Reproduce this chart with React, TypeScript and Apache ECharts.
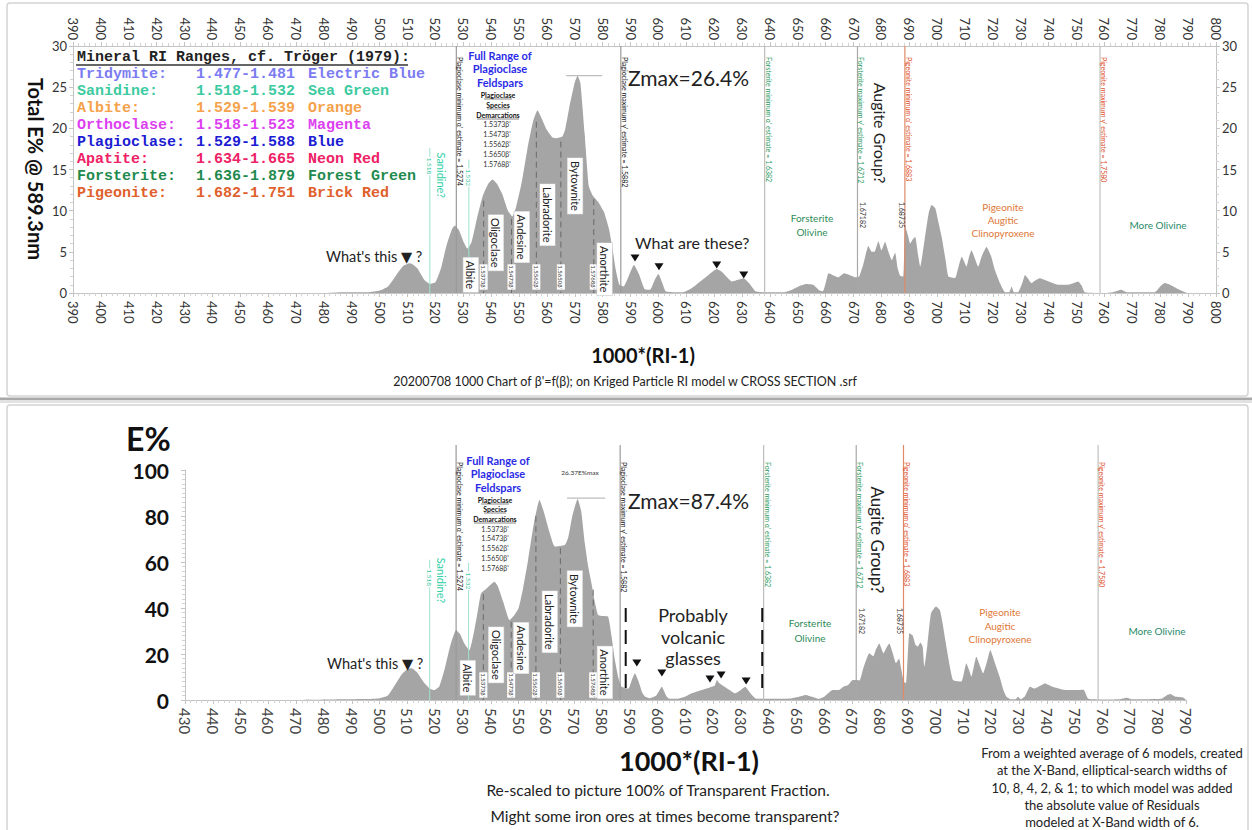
import React, { useEffect, useRef } from "react";
import * as echarts from "echarts";

const FONT = "Lato, 'Open Sans', 'DejaVu Sans', sans-serif";
const MONO = "'Liberation Mono', 'DejaVu Sans Mono', monospace";

// ---------- data ----------
const topXRange = [390, 800];
const topYRange = [0, 30];
const bottomXRange = [430, 790];
const bottomYRange = [0, 100];

const topProfile: [number, number][] = [
  [390, 0], [480, 0], [486, 0.1], [496, 0.1], [500, 0.3], [503, 0.8], [506, 2.2], [508.5, 3.3], [511, 3.6],
  [513.5, 3.0], [516, 1.6], [518, 1.1], [520, 1.3], [522, 3.0], [524, 5.8], [526, 7.8], [527, 8.2], [528.5, 7.6],
  [530, 6.3], [531.5, 5.4], [533, 6.2], [535, 9.2], [537, 11.8], [539, 13.3], [540.5, 13.8], [542, 13.3], [544, 12.0],
  [546, 10.0], [547.6, 9.3], [549, 10.5], [551, 13.5], [553, 17.5], [555, 20.8], [556.6, 22.2], [558, 21.3], [560, 19.8],
  [562, 18.9], [563.5, 18.8], [565.5, 19.0], [566.5, 19.8], [568, 22.5], [570, 25.6], [571, 26.4], [572, 25.5],
  [573.5, 19.5], [575, 13.0], [576.5, 11.8], [578.5, 11.0], [580.5, 9.8], [582.3, 7.7], [583.7, 5.0], [584.7, 2.8],
  [586, 1.0], [587.5, 0.8], [589.5, 2.2], [591.2, 3.4], [593, 2.3], [595, 0.5], [597, 0.4], [598.7, 1.6], [600, 2.3],
  [601.3, 1.3], [602.6, 0.2], [605, 0.1], [609, 0.1], [612, 0.6], [615, 1.4], [618, 2.2], [621, 2.9], [623, 2.5],
  [626.4, 1.4], [628.5, 1.6], [630.6, 1.8], [632.5, 1.2], [634.8, 0.2], [637, 0.1], [645, 0.1], [648, 0.4], [651, 0.9],
  [653, 1.1], [655.5, 1.0], [657.8, 0.3], [659, 0.2], [660, 1.2], [661, 2.4], [663, 2.1], [664.5, 1.9], [666.6, 2.4],
  [668.5, 2.2], [670.8, 1.9], [672, 2.0], [673.5, 3.5], [675.3, 5.7], [676.5, 5.0], [677.5, 5.0], [678.9, 6.3],
  [680, 5.2], [681.3, 6.2], [682.5, 5.0], [683.7, 4.0], [684.9, 4.9], [685.8, 3.0], [686.7, 2.1], [687.8, 2.0],
  [688.5, 8.1], [689.5, 7.0], [690.3, 6.0], [691.2, 6.5], [692.1, 6.8], [693.2, 4.5], [693.9, 3.2], [695.5, 6.5],
  [697, 9.8], [698, 10.7], [699.3, 10.3], [700.5, 8.5], [701.6, 6.8], [703, 4.0], [704, 2.0], [706.4, 1.8], [707.5, 3.0],
  [708.8, 4.4], [709.7, 3.8], [710.5, 3.2], [711.5, 4.5], [712.3, 5.2], [713.5, 4.2], [714.7, 3.2], [716, 4.5],
  [717.7, 5.6], [719.3, 4.5], [720.7, 2.8], [722.5, 1.2], [724.3, 0.1], [725.8, 0.1], [726.7, 0.8], [727.5, 0.1],
  [729, 0.1], [730.5, 1.2], [731.5, 2.2], [732.5, 1.8], [733.8, 1.2], [735, 1.5], [736.8, 1.8], [740, 1.4], [743.4, 1.0],
  [747, 1.0], [749, 1.2], [750.5, 1.4], [751.8, 0.9], [752.9, 0.1], [760, 0], [763, 0.1], [766, 0.4], [768, 0.1],
  [778, 0.1], [780, 0.8], [781.6, 1.2], [783.5, 1.0], [785.2, 0.7], [787.5, 0.3], [789.8, 0], [800, 0],
];

const bottomProfile: [number, number][] = [
  [430, 0], [470, 0], [487, 0.3], [495, 0.4], [500, 0.8], [503, 2.0], [505.5, 6.5], [508, 11.2], [510, 13.5],
  [511.5, 13.8], [513.5, 12.0], [516, 7.5], [518, 5.0], [519.6, 4.3], [521.5, 6.0], [523.5, 14.0], [525.5, 24.0],
  [527.5, 30.4], [529, 28.5], [530.5, 24.5], [532.3, 21.7], [534, 30.0], [535.5, 40.0], [536.5, 46.4], [538.5, 48.5],
  [541.3, 51.4], [542.5, 49.5], [544.5, 42.5], [546.7, 34.8], [548.5, 37.0], [550, 40.0], [551.5, 48.0], [553.4, 60.9],
  [555.5, 77.0], [557.5, 87.0], [559, 82.0], [561.2, 72.5], [563, 66.7], [566.6, 67.4], [567.8, 70.5], [569.3, 80.0],
  [571.2, 87.4], [572.5, 82.0], [573.8, 68.1], [575, 58.0], [576.2, 50.7], [577.5, 42.0], [578.6, 37.0], [580.5, 36.5],
  [582.2, 36.2], [583.5, 27.0], [584.6, 17.4], [586, 9.0], [587, 5.8], [589.5, 5.0], [590.8, 9.0], [591.8, 11.6],
  [593, 8.5], [594.5, 3.0], [595.5, 1.4], [597, 0.8], [599.5, 2.0], [601.5, 5.8], [603, 2.0], [603.9, 0.7], [607, 0.5],
  [610, 1.5], [612.3, 2.9], [615, 4.0], [617.5, 5.0], [619.5, 5.8], [620.5, 6.2], [621.3, 8.7], [622, 7.5], [623.1, 6.5],
  [625, 5.0], [627.9, 2.9], [629.5, 4.0], [631.5, 5.8], [633, 3.5], [635.2, 0.7], [640, 0.5], [648, 0.7], [651, 1.5],
  [653.2, 2.2], [656, 1.2], [658, 0.5], [660, 1.5], [662.9, 4.3], [665, 4.3], [666.8, 5.8], [668.5, 6.5], [670.1, 8.7],
  [671.5, 8.7], [672.6, 8.5], [674, 14.0], [676.1, 20.3], [677.5, 19.0], [678.5, 22.0], [679.7, 24.6], [681.2, 20.3],
  [682.4, 23.0], [683.3, 24.6], [684.5, 20.5], [685.7, 16.0], [686.8, 18.0], [687.5, 14.0], [688.5, 8.0], [689.3, 7.2],
  [690.5, 29.0], [691.7, 28.0], [692.7, 24.0], [693.5, 23.2], [694.5, 25.0], [695.3, 23.2], [695.9, 14.5], [697, 24.0],
  [698.3, 37.7], [700.1, 40.6], [701.5, 39.0], [702.5, 33.0], [704, 22.0], [706.2, 8.7], [709.2, 8.0], [710, 11.0],
  [711, 16.0], [712, 13.0], [712.8, 10.1], [714.6, 18.8], [716, 14.5], [717, 11.6], [718.5, 17.0], [719.6, 21.7],
  [721.3, 16.0], [723, 10.0], [724.3, 4.5], [725.4, 1.5], [727, 0.3], [728.7, 0.3], [729.6, 1.4], [730.6, 0.3],
  [732, 1.5], [733.9, 5.8], [735.5, 5.0], [737.2, 6.0], [739.3, 7.2], [742, 5.8], [745.9, 4.5], [749, 4.3], [753.1, 4.5],
  [754.9, 0.5], [760, 0.2], [766, 0.3], [768.7, 1.0], [770.5, 0.3], [781, 0.5], [783, 2.0], [784.4, 2.6], [786, 1.5],
  [787.5, 1.3], [789.2, 1.0], [790, 0],
];

const legendTitle = "Mineral RI Ranges, cf. Tröger (1979):";
const legendMinerals = ["Tridymite:", "Sanidine:", "Albite:", "Orthoclase:", "Plagioclase:", "Apatite:", "Forsterite:", "Pigeonite:"];
const legendRanges = ["1.477-1.481", "1.518-1.532", "1.529-1.539", "1.518-1.523", "1.529-1.588", "1.634-1.665", "1.636-1.879", "1.682-1.751"];
const legendColorNames = ["Electric Blue", "Sea Green", "Orange", "Magenta", "Blue", "Neon Red", "Forest Green", "Brick Red"];
const legendColors = ["#7b7bf2", "#3ccaa0", "#f5a24a", "#dc3ff0", "#1c1cd2", "#ee2266", "#1f8a4e", "#e0602c"];

const boundaryX = [527.5, 586.5, 638.1, 671.4, 688.4, 758.4];
const boundaryText = [
  "Plagioclase minimum α' estimate = 1.5274",
  "Plagioclase maximum γ' estimate = 1.5882",
  "Forsterite minimum α' estimate = 1.6382",
  "Forsterite maximum γ' estimate = 1.6712",
  "Pigeonite minimum α' estimate = 1.6883",
  "Pigeonite maximum γ' estimate = 1.7580",
];
const boundaryTextColor = ["#111", "#111", "#1f9a5a", "#1f9a5a", "#e0502a", "#e0502a"];
const boundaryLineColor = ["#9a9a9a", "#9a9a9a", "#bcbcbc", "#a8a8a8", "#e08a6a", "#c0c0c0"];

const demarcationX = [537.3, 547.3, 556.2, 565.0, 576.8];
const demarcationText = ["1.5373β'", "1.5473β'", "1.5562β'", "1.5650β'", "1.5768β'"];
const demarcationTopHeight = [11.2, 9.0, 20.8, 18.4, 11.4];
const demarcationBottomHeight = [46, 34, 80, 66, 48];

const speciesNames = ["Albite", "Oligoclase", "Andesine", "Labradorite", "Bytownite", "Anorthite"];
const speciesTopX = [532.7, 541.7, 551.0, 560.2, 570.1, 580.7];
const speciesTopY = [2.2, 6.1, 6.8, 9.5, 13.0, 2.9];
const speciesBottomX = [531.7, 541.9, 550.9, 561.2, 570.2, 581.0];
const speciesBottomY = [9.6, 19.6, 22.6, 34, 44, 12];

const sanidineX = [518, 532];
const sanidineTopFrom = [17.6, 16.2];
const sanidineBottomFrom = [61, 59.6];

const topMarkers: [number, number][] = [[591.6, 4.25], [600.2, 3.2], [620.9, 3.4], [630.6, 2.2]];
const bottomMarkers: [number, number][] = [[592.5, 16.1], [601.5, 11.7], [618.8, 9.1], [622.8, 10.9], [631.8, 8.3]];

const topZmax = { x1: 566.9, x2: 579.8, y: 26.4 };
const bottomZmax = { x1: 567.4, x2: 581.1, y: 87.8 };
const glassDashX = [588.5, 637.6];

// ---------- helpers ----------
type Any = any;
const axisLineStyle = { color: "#c4c4c4", width: 1 };

function xAxisDef(grid: number, range: number[], position: string, rotate: number, size: number, color: string, margin: number): Any {
  return {
    type: "value", gridIndex: grid, min: range[0], max: range[1], interval: 10, position,
    axisLine: { show: true, onZero: false, lineStyle: axisLineStyle },
    axisTick: { show: true, length: 4, lineStyle: axisLineStyle },
    minorTick: { show: true, splitNumber: 5, length: 3, lineStyle: { color: "#d2d2d2" } },
    splitLine: { show: false },
    axisLabel: { rotate, fontSize: size, color, margin, fontFamily: FONT },
  };
}
function yAxisDef(grid: number, range: number[], interval: number, position: string, size: number, color: string, weight: string, margin: number, minor: number): Any {
  return {
    type: "value", gridIndex: grid, min: range[0], max: range[1], interval, position,
    axisLine: { show: true, lineStyle: axisLineStyle },
    axisTick: { show: true, length: 4, lineStyle: axisLineStyle },
    minorTick: { show: true, splitNumber: minor, length: 3, lineStyle: { color: "#d2d2d2" } },
    splitLine: { show: false },
    axisLabel: { fontSize: size, color, fontWeight: weight, margin, fontFamily: FONT },
  };
}

function baseOption(): Any {
  return {
    animation: false,
    backgroundColor: "#ffffff",
    textStyle: { fontFamily: FONT },
    grid: [
      { left: 73, top: 46, width: 1143, height: 247 },
      { left: 185, top: 470, width: 1001, height: 230 },
    ],
    xAxis: [
      xAxisDef(0, topXRange, "bottom", -90, 13, "#333", 8),
      xAxisDef(0, topXRange, "top", 90, 13, "#333", 6),
      xAxisDef(1, bottomXRange, "bottom", -90, 15, "#444", 8),
    ],
    yAxis: [
      yAxisDef(0, topYRange, 5, "left", 13, "#333", "normal", 6, 5),
      yAxisDef(0, topYRange, 5, "right", 13, "#333", "normal", 6, 5),
      yAxisDef(1, bottomYRange, 20, "left", 21, "#111", "bold", 16, 10),
    ],
    series: [
      {
        type: "line", xAxisIndex: 0, yAxisIndex: 0, data: topProfile, showSymbol: false, smooth: 0.15,
        lineStyle: { width: 0 }, areaStyle: { color: "#a5a5a5", opacity: 1 }, z: 2,
      },
      {
        type: "line", xAxisIndex: 2, yAxisIndex: 2, data: bottomProfile, showSymbol: false, smooth: 0.15,
        lineStyle: { width: 0 }, areaStyle: { color: "#a5a5a5", opacity: 1 }, z: 2,
      },
    ],
  };
}

function buildGraphics(P: (g: number, x: number, y: number) => number[]): Any[] {
  const G: Any[] = [];
  const CW = -Math.PI / 2;
  const txt = (text: string, x: number, y: number, o: Any = {}) => {
    const style: Any = {
      text, fill: o.fill ?? "#222", fontSize: o.size ?? 12, fontFamily: o.family ?? FONT,
      fontWeight: o.weight ?? "normal", textAlign: o.align ?? "center",
      textVerticalAlign: o.va ?? "middle", verticalAlign: o.va ?? "middle",
    };
    if (o.bg) { style.backgroundColor = o.bg; style.padding = o.pad ?? [1, 2]; }
    if (o.border) { style.borderColor = o.border; style.borderWidth = 0.6; }
    G.push({ type: "text", x, y, rotation: o.rot ?? 0, z: o.z ?? 60, silent: true, style });
  };
  const line = (x1: number, y1: number, x2: number, y2: number, stroke: string, w = 1, dash?: number[], z = 40) => {
    G.push({ type: "line", z, silent: true, shape: { x1, y1, x2, y2 }, style: { stroke, lineWidth: w, lineDash: dash } });
  };
  const tri = (cx: number, cy: number) => {
    G.push({ type: "polygon", z: 60, silent: true, shape: { points: [[cx - 4.5, cy - 3.5], [cx + 4.5, cy - 3.5], [cx, cy + 3.5]] }, style: { fill: "#111" } });
  };

  // frames
  G.push({ type: "rect", z: 1, silent: true, shape: { x: 7, y: 3, width: 1241, height: 393, r: 3 }, style: { fill: "none", stroke: "#d4d4d4", lineWidth: 1.5 } });
  G.push({ type: "rect", z: 1, silent: true, shape: { x: 0, y: 397.5, width: 1252, height: 2.5 }, style: { fill: "#a9a9a9" } });
  G.push({ type: "rect", z: 1, silent: true, shape: { x: 0, y: 400, width: 1252, height: 3 }, style: { fill: "#e2e2e2" } });
  G.push({ type: "rect", z: 1, silent: true, shape: { x: 7, y: 405, width: 1241, height: 440, r: 3 }, style: { fill: "none", stroke: "#d4d4d4", lineWidth: 1.5 } });

  // axis titles and captions
  txt("Total E% @ 589.3nm", 36, 169, { rot: CW, size: 20, weight: "bold", fill: "#111" });
  txt("1000*(RI-1)", 643, 355, { size: 20, weight: "bold", fill: "#111" });
  txt("20200708 1000 Chart of β'=f(β); on Kriged Particle RI model w CROSS SECTION .srf", 625, 381, { size: 12.5 });
  txt("E%", 126, 438, { size: 32, weight: "bold", fill: "#111", align: "left" });
  txt("1000*(RI-1)", 689, 760, { size: 27, weight: "bold", fill: "#111" });
  txt("Re-scaled to picture 100% of Transparent Fraction.", 658, 790, { size: 15.5 });
  txt("Might some iron ores at times become transparent?", 665, 816, { size: 15.5 });
  const note = ["From a weighted average of 6 models, created", "at the X-Band, elliptical-search widths of",
    "10, 8, 4, 2, & 1; to which model was added", "the absolute value of Residuals", "modeled at X-Band width of 6."];
  const noteY = [753, 770, 788, 805, 822];
  note.forEach((t, i) => txt(t, 1112, noteY[i], { size: 13 }));

  // legend
  txt(legendTitle, 77, 57, { family: MONO, size: 15, weight: "bold", align: "left", fill: "#222" });
  line(76, 65, 408, 65, "#333", 1.5, undefined, 60);
  legendMinerals.forEach((m, i) => {
    const y = 74 + i * 17;
    const c = legendColors[i];
    txt(m, 77, y, { family: MONO, size: 15, weight: "bold", align: "left", fill: c });
    txt(legendRanges[i], 196, y, { family: MONO, size: 15, weight: "bold", align: "left", fill: c });
    txt(legendColorNames[i], 308, y, { family: MONO, size: 15, weight: "bold", align: "left", fill: c });
  });

  // per-panel annotations
  const panels = [
    { g: 0, yTopLine: P(0, 500, 30)[1], yBase: P(0, 500, 0)[1], labelStart: 57, demH: demarcationTopHeight, sX: speciesTopX, sY: speciesTopY,
      sanFrom: sanidineTopFrom, smallY: 277, markers: topMarkers, z: topZmax },
    { g: 1, yTopLine: 445, yBase: P(1, 500, 0)[1], labelStart: 462, demH: demarcationBottomHeight, sX: speciesBottomX, sY: speciesBottomY,
      sanFrom: sanidineBottomFrom, smallY: 685, markers: bottomMarkers, z: bottomZmax },
  ];
  panels.forEach((p) => {
    const g = p.g;
    boundaryX.forEach((bx, i) => {
      const x = P(g, bx, 0)[0];
      line(x, p.yTopLine, x, p.yBase, boundaryLineColor[i], 1.2, undefined, 30);
      txt(boundaryText[i], x + 4, p.labelStart, { rot: CW, size: 7, align: "left", fill: boundaryTextColor[i] });
    });
    // sanidine
    sanidineX.forEach((sx, i) => {
      const a = P(g, sx, p.sanFrom[i]);
      const b = P(g, sx, 0);
      line(a[0], a[1], b[0], b[1], "#9fe3cc", 1, undefined, 30);
      txt(sx === 518 ? "1.518" : "1.532", a[0], a[1] + 18, { rot: CW, size: 6.5, fill: "#3cc8a0", bg: "#fff", pad: [0, 1] });
    });
    const sn = P(g, 522.2, g === 0 ? 14.3 : 52);
    txt("Sanidine?", sn[0], sn[1], { rot: CW, size: 11, fill: "#33d0a8" });
    // demarcations
    demarcationX.forEach((dx, i) => {
      const a = P(g, dx, p.demH[i]);
      const b = P(g, dx, 0);
      line(a[0], a[1], b[0], b[1], "#6a6a6a", 1, [6, 4], 35);
      txt(demarcationText[i], a[0], p.smallY, { rot: CW, size: 6, fill: "#333", bg: "#fff", pad: [1, 1], z: 55 });
    });
    // species boxes
    speciesNames.forEach((nm, i) => {
      const q = P(g, p.sX[i], p.sY[i]);
      txt(nm, q[0], q[1], { rot: CW, size: 11, fill: "#222", bg: "#fff", pad: [2, 3], border: "#c8c8c8", z: 65 });
    });
    // markers
    p.markers.forEach((m) => {
      const q = P(g, m[0], m[1]);
      tri(q[0], q[1]);
    });
    // zmax line
    const z1 = P(g, p.z.x1, p.z.y);
    const z2 = P(g, p.z.x2, p.z.y);
    line(z1[0], z1[1], z2[0], z2[1], "#bdbdbd", 1.2, undefined, 40);
  });

  // top panel texts
  txt("Full Range of", 500, 55, { size: 11, weight: "bold", fill: "#2b2be6" });
  txt("Plagioclase", 500, 68, { size: 11, weight: "bold", fill: "#2b2be6" });
  txt("Feldspars", 500, 82, { size: 11, weight: "bold", fill: "#2b2be6" });
  const spT = ["Plagioclase", "Species", "Demarcations"];
  const spTopY = [95, 105, 115];
  const spBotY = [500, 509, 519];
  spT.forEach((t, i) => {
    txt(t, 498, spTopY[i], { size: 7, weight: "bold", fill: "#111" });
    txt(t, 495, spBotY[i], { size: 7, weight: "bold", fill: "#111" });
  });
  line(484, 99, 512, 99, "#333", 0.6, undefined, 60);
  line(487, 109, 509, 109, "#333", 0.6, undefined, 60);
  line(477, 119, 519, 119, "#333", 0.6, undefined, 60);
  line(481, 504, 509, 504, "#333", 0.6, undefined, 60);
  line(484, 513, 506, 513, "#333", 0.6, undefined, 60);
  line(474, 523, 516, 523, "#333", 0.6, undefined, 60);
  const valTopY = [124, 134, 144, 154, 164];
  const valBotY = [529, 538, 548, 558, 568];
  demarcationText.forEach((t, i) => {
    txt(t, 497, valTopY[i], { size: 7, fill: "#333" });
    txt(t, 495, valBotY[i], { size: 7, fill: "#333" });
  });

  txt("Zmax=26.4%", 628, 77, { size: 21, align: "left", fill: "#222" });
  txt("What's this ▼ ?", 326, 256, { size: 14.5, align: "left", fill: "#222" });
  txt("What are these?", 635, 242, { size: 16, align: "left", fill: "#222" });
  txt("Augite Group?", 880, 133, { rot: CW, size: 16, fill: "#222" });
  txt("Forsterite", 812, 218, { size: 10, fill: "#2e8b57" });
  txt("Olivine", 812, 232, { size: 10, fill: "#2e8b57" });
  txt("Pigeonite", 1003, 207, { size: 10, fill: "#e07838" });
  txt("Augitic", 1003, 220, { size: 10, fill: "#e07838" });
  txt("Clinopyroxene", 1003, 233, { size: 10, fill: "#e07838" });
  txt("More Olivine", 1158, 225, { size: 10, fill: "#2a8a6a" });
  txt("1.67182", 863, 215, { rot: CW, size: 7, fill: "#333" });
  txt("1.68735", 902, 215, { rot: CW, size: 7, fill: "#333" });

  // bottom panel texts
  txt("Full Range of", 498, 460, { size: 11, weight: "bold", fill: "#2b2be6" });
  txt("Plagioclase", 498, 473, { size: 11, weight: "bold", fill: "#2b2be6" });
  txt("Feldspars", 498, 487, { size: 11, weight: "bold", fill: "#2b2be6" });
  txt("26.37E%max", 580, 472, { size: 6.5, fill: "#333" });
  txt("Zmax=87.4%", 628, 500, { size: 21, align: "left", fill: "#222" });
  txt("What's this ▼ ?", 327, 663, { size: 14.5, align: "left", fill: "#222" });
  txt("Probably", 693, 615, { size: 18, fill: "#222" });
  txt("volcanic", 693, 637, { size: 18, fill: "#222" });
  txt("glasses", 693, 658, { size: 18, fill: "#222" });
  glassDashX.forEach((gx) => {
    const a = P(1, gx, 40);
    const b = P(1, gx, 5);
    line(a[0], a[1], b[0], b[1], "#111", 2, [14, 8], 50);
  });
  txt("Augite Group?", 877, 540, { rot: CW, size: 17, fill: "#222" });
  txt("Forsterite", 810, 623, { size: 10, fill: "#2e8b57" });
  txt("Olivine", 810, 638, { size: 10, fill: "#2e8b57" });
  txt("Pigeonite", 1000, 612, { size: 10, fill: "#e07838" });
  txt("Augitic", 1000, 626, { size: 10, fill: "#e07838" });
  txt("Clinopyroxene", 1000, 639, { size: 10, fill: "#e07838" });
  txt("More Olivine", 1157, 631, { size: 10, fill: "#2a8a6a" });
  txt("1.67182", 862, 621, { rot: CW, size: 7, fill: "#333" });
  txt("1.68735", 900, 621, { rot: CW, size: 7, fill: "#333" });

  return G;
}

export default function App() {
  const ref = useRef<HTMLDivElement>(null);
  useEffect(() => {
    if (!ref.current) return;
    const chart = echarts.init(ref.current, null, { renderer: "svg" });
    chart.setOption(baseOption());
    const P = (g: number, x: number, y: number) => chart.convertToPixel({ gridIndex: g } as Any, [x, y]) as number[];
    chart.setOption({ graphic: { elements: buildGraphics(P) } });
    return () => chart.dispose();
  }, []);
  return (
    <div
      ref={ref}
      style={{ position: "fixed", left: 0, top: 0, width: 1252, height: 830, background: "#fff" }}
    />
  );
}
